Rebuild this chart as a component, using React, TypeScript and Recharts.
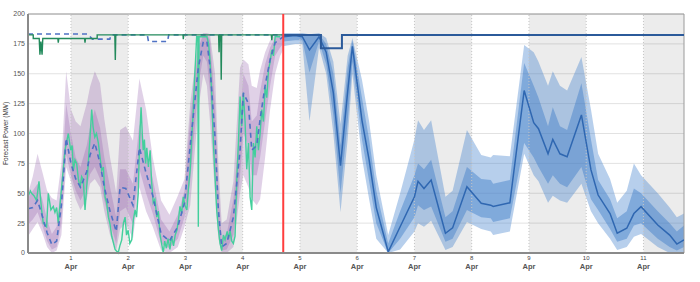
import {
  ComposedChart,
  Area,
  Line,
  XAxis,
  YAxis,
  CartesianGrid,
  ReferenceArea,
  ReferenceLine,
} from "recharts";

// hours since 1 Apr 00:00
const X_MIN = -18;
const X_MAX = 257;
const NOW_H = 89;

const dayLabels = ["1", "2", "3", "4", "5", "6", "7", "8", "9", "10", "11"];
const monthLabel = "Apr";
const shadedDays = [1, 3, 5, 7, 9, 11];
const yTicks = [0, 25, 50, 75, 100, 125, 150, 175, 200];

// historical forecast (purple bands + dashed median)
const histHours = [-18, -16, -14, -12, -10, -8, -6, -4, -2, 0, 2, 4, 6.6, 8, 10, 12.2, 14, 16.4, 19, 20.6, 23, 26, 28.7, 31.5, 34.3, 37.8, 41.3, 44.8, 47.6, 50, 53.4, 55.5, 57, 58.3, 60.4, 61.8, 63.2, 65.3, 68.1, 70.9, 72.3, 74.4, 75.8, 77.9, 79.3, 81.4, 83.5, 85.6, 87.7, 89];
const histOuterLow = [14, 20, 26, 17, 5, 0, 2, 15, 72, 60, 45, 36, 45, 58, 62, 55, 35, 15, 2, 20, 25, 12, 55, 35, 22, 2, 0, 5, 22, 40, 120, 150, 140, 110, 50, 12, 0, 0, 5, 50, 65, 55, 45, 40, 45, 80, 120, 150, 165, 170];
const histInnerLow = [24, 28, 34, 23, 10, 3, 5, 25, 82, 65, 52, 44, 55, 66, 72, 62, 44, 25, 8, 35, 38, 24, 70, 50, 33, 8, 4, 12, 30, 60, 140, 165, 160, 135, 70, 22, 2, 3, 15, 65, 100, 90, 65, 65, 80, 110, 140, 165, 172, 175];
const histMedian = [37, 38, 44, 31, 17, 7, 10, 40, 96, 75, 62, 55, 68, 82, 92, 75, 55, 35, 18, 55, 54, 40, 88, 67, 48, 16, 10, 22, 42, 90, 155, 177, 177, 156, 97, 36, 5, 8, 30, 86, 134, 125, 86, 90, 112, 140, 162, 176, 179, 181];
const histInnerHigh = [46, 52, 58, 45, 28, 16, 22, 58, 125, 100, 80, 72, 90, 105, 120, 105, 80, 55, 30, 70, 70, 58, 108, 85, 62, 28, 18, 32, 52, 112, 172, 183, 183, 178, 125, 55, 12, 16, 45, 110, 150, 140, 110, 115, 135, 158, 172, 180, 181, 183];
const histOuterHigh = [50, 64, 83, 68, 52, 46, 44, 75, 152, 120, 110, 106, 125, 139, 152, 142, 112, 80, 50, 103, 106, 94, 146, 120, 80, 44, 32, 48, 62, 125, 180, 184, 184, 183, 150, 75, 25, 28, 60, 155, 162, 158, 140, 138, 153, 168, 178, 183, 183, 184];

// measured power
const actualHours = [-18, -17, -16.5, -15.5, -14.4, -13.4, -12.3, -11.6, -10.2, -9.5, -8.4, -7.4, -6.7, -6, -5.3, -3.9, -2.5, -1.1, -0.1, 0.5, 1, 1.7, 2.4, 3.1, 3.8, 4.5, 5.2, 5.9, 6.6, 8, 8.7, 9.3, 10, 10.7, 11.5, 12.2, 12.9, 13.6, 14.3, 15, 15.7, 16.4, 17.1, 18.5, 19.8, 20.5, 21.3, 22, 22.7, 23.3, 24, 24.7, 25.5, 26.2, 26.9, 27.5, 28.2, 28.8, 29.4, 29.9, 30.3, 30.8, 31.3, 31.8, 32.5, 33.2, 33.8, 34.5, 35.2, 36, 36.6, 37.3, 38.7, 39.3, 40, 40.7, 41.5, 42.2, 43, 43.7, 44.4, 45.1, 45.7, 46.4, 47.1, 47.8, 48.6, 49.3, 50, 50.6, 51.3, 51.8, 52.2, 52.7, 53.2, 53.4, 53.7, 57, 57.7, 58.3, 59, 59.7, 60.4, 61.1, 61.8, 62.5, 63.2, 63.9, 64.6, 65.5, 66.1, 66.7, 67.4, 68.1, 68.8, 69.5, 70.2, 70.9, 71.6, 72.3, 73, 73.7, 74.4, 75.1, 75.8, 76.5, 77.2, 77.9, 78.6, 79.3, 80, 80.7, 81.4, 82.1, 82.8, 83.5, 84.2, 84.9, 85.6, 87.7];
const actualPower = [47, 52, 50, 48, 44, 60, 36, 25, 22, 50, 36, 39, 34, 38, 25, 55, 86, 100, 86, 90, 69, 78, 75, 62, 55, 64, 61, 36, 55, 97, 120, 105, 97, 100, 92, 80, 69, 72, 47, 42, 30, 24, 14, 3, 0, 6, 11, 25, 30, 15, 19, 8, 11, 28, 36, 30, 50, 95, 122, 100, 86, 95, 75, 88, 72, 86, 60, 42, 45, 30, 35, 16, 0, 10, 4, 12, 3, 14, 6, 15, 19, 28, 39, 33, 47, 40, 36, 55, 70, 95, 120, 145, 160, 181, 181, 22, 181, 181, 175, 161, 134, 92, 64, 36, 20, 8, 2, 15, 11, 18, 12, 19, 10, 8, 14, 60, 92, 131, 106, 134, 110, 70, 92, 47, 36, 92, 80, 106, 86, 100, 120, 110, 139, 130, 153, 160, 170, 165, 181, 181];

// available capacity (measured) and its forecast
const capHours = [-18, -15.8, -15.8, -13.3, -13, -12.6, -12.1, -11.8, -5.5, -5.3, -5.1, 5.7, 5.9, 6.1, 11, 11, 18.4, 18.6, 18.8, 47, 47.1, 47.3, 61.9, 62.1, 62.3, 62.8, 63, 63.2, 84, 84.2, 84.4, 88.5];
const capValues = [182.5, 182.5, 179.5, 179.5, 166, 177, 166, 179.5, 179.5, 176, 179.5, 179.5, 176, 179.5, 179.5, 182.5, 182.5, 161.5, 182.5, 182.5, 179, 182.5, 182.5, 168, 182.5, 182.5, 145, 182.5, 182.5, 178, 182.5, 182.5];
const capFcHistHours = [-18, 7, 9, 16.3, 16.8, 32, 32.5, 40.5, 41, 89];
const capFcHistValues = [183.3, 183.3, 179, 179, 182.5, 182.5, 177, 177, 182.5, 182.5];

// forecast (blue)
const fcHours = [89, 94, 97, 100, 104, 107, 110, 113, 116, 118, 122, 125, 128, 133, 138, 144, 145.5, 148, 151, 157, 160, 166, 172, 176, 177, 184, 190, 194, 196, 200, 202, 205, 208, 214, 218, 221, 226, 229, 233, 236, 239, 246, 251, 254, 257];
const fcMedian = [181, 182, 181, 170, 181, 168, 134, 73, 135, 173, 111, 78, 38, 1, 22, 47, 60, 54, 61, 16.5, 21, 55.5, 41.6, 40, 39, 42, 136, 109, 104, 83, 95, 83, 80.6, 115.5, 69.5, 48.5, 33, 16.5, 20.7, 33, 38.8, 23.4, 15, 7.5, 11];
const fcInnerLow = [177, 178, 178, 151, 177, 158, 115, 50, 110, 160, 95, 60, 25, 0, 12, 30, 40, 36, 39, 9.5, 12, 36, 30, 29, 26, 29, 92, 80, 72, 58, 65, 58, 55, 72, 45, 36, 20, 9.5, 12, 23, 25, 12, 5, 2, 5];
const fcInnerHigh = [183, 183, 183, 182, 183, 175, 150, 90, 155, 178, 130, 95, 52, 8, 35, 65, 75, 70, 78, 30, 35, 72, 62, 61, 58, 61, 159, 140, 130, 106, 122, 106, 103, 142, 95, 61, 45, 29, 35, 54, 50, 35, 25, 18, 23];
const fcOuterLow = [173, 175, 175, 110, 172, 150, 100, 34, 95, 150, 80, 45, 12, 0, 3, 18, 25, 22, 27, 2.5, 5, 26, 20, 18, 15, 18, 83, 65, 60, 42, 48, 44, 42, 58, 35, 25, 12, 2.5, 5, 13.6, 16, 5, 0, 0, 0];
const fcOuterHigh = [184, 184, 184, 183, 184, 180, 160, 108, 165, 180, 145, 110, 65, 15, 50, 95, 111, 103, 111, 47, 52, 103, 82, 80, 82, 81, 174, 168, 160, 140, 152, 140, 136, 164, 120, 83, 62, 42, 52, 75, 65, 50, 38, 30, 33];
const capFcHours = [89, 104.8, 104.8, 113.6, 113.6, 257];
const capFcValues = [182.5, 182.5, 171.3, 171.3, 182.5, 182.5];

const histRows = histHours.map((h, i) => ({
  h,
  outer: [histOuterLow[i], histOuterHigh[i]],
  inner: [histInnerLow[i], histInnerHigh[i]],
  med: histMedian[i],
}));
const fcRows = fcHours.map((h, i) => ({
  h,
  outer: [fcOuterLow[i], fcOuterHigh[i]],
  inner: [fcInnerLow[i], fcInnerHigh[i]],
  med: fcMedian[i],
}));
const actualRows = actualHours.map((h, i) => ({ h, v: actualPower[i] }));
const capRows = capHours.map((h, i) => ({ h, v: capValues[i] }));
const capFcHistRows = capFcHistHours.map((h, i) => ({ h, v: capFcHistValues[i] }));
const capFcRows = capFcHours.map((h, i) => ({ h, v: capFcValues[i] }));
const dayTicks = dayLabels.map((_, i) => i * 24);

const FONT = '"Liberation Sans", Arial, sans-serif';

function DayTick({ x, y, payload }: any) {
  const label = dayLabels[Math.round(payload.value / 24)];
  return (
    <g>
      <text x={x} y={y + 7} textAnchor="middle" fontSize={6} fill="#444" fontFamily={FONT}>
        {label}
      </text>
      <text x={x} y={y + 16} textAnchor="middle" fontSize={7.5} fontWeight="bold" fill="#555" fontFamily={FONT}>
        {monthLabel}
      </text>
    </g>
  );
}

export default function App() {
  return (
    <div style={{ position: "absolute", left: 0, top: 0, width: 700, height: 282, background: "#fff" }}>
      <ComposedChart width={700} height={282} margin={{ top: 14, right: 16, bottom: 0, left: 0 }}>
        <CartesianGrid vertical={false} stroke="#e2e2e2" />
        {shadedDays.map((d) => (
          <ReferenceArea
            key={d}
            x1={(d - 1) * 24}
            x2={Math.min(d * 24, X_MAX)}
            y1={0}
            y2={200}
            fill="#000"
            fillOpacity={0.075}
            stroke="none"
          />
        ))}
        {dayTicks.map((t) => (
          <ReferenceLine key={t} x={t} stroke="#c4c4c4" strokeDasharray="1 2" />
        ))}
        <XAxis
          type="number"
          dataKey="h"
          domain={[X_MIN, X_MAX]}
          ticks={dayTicks}
          allowDataOverflow
          height={29}
          tickLine={false}
          tickSize={0}
          tickMargin={0}
          axisLine={{ stroke: "#8a8a8a", strokeWidth: 2 }}
          tick={(p: any) => <DayTick {...p} />}
        />
        <YAxis
          domain={[0, 200]}
          ticks={yTicks}
          width={28}
          tickLine={false}
          tickSize={0}
          tickMargin={3}
          axisLine={{ stroke: "#8a8a8a", strokeWidth: 2 }}
          tick={{ fontSize: 7, fill: "#555", fontFamily: FONT }}
          label={{
            value: "Forecast Power (MW)",
            angle: -90,
            position: "insideLeft",
            offset: 6,
            style: { fontSize: 6.5, fill: "#333", fontFamily: FONT, textAnchor: "middle" },
          }}
        />

        <Area data={histRows} dataKey="outer" type="linear" stroke="none" fill="#8e5aa8" fillOpacity={0.28} isAnimationActive={false} />
        <Area data={histRows} dataKey="inner" type="linear" stroke="none" fill="#8e5aa8" fillOpacity={0.28} isAnimationActive={false} />
        <Line data={actualRows} dataKey="v" type="linear" stroke="#43cf9c" strokeWidth={1.4} dot={false} isAnimationActive={false} />
        <Line data={histRows} dataKey="med" type="linear" stroke="#4f72c4" strokeWidth={1.6} strokeDasharray="5 4" dot={false} isAnimationActive={false} />
        <Line data={capFcHistRows} dataKey="v" type="linear" stroke="#4f72c4" strokeWidth={1.6} strokeDasharray="5 4" dot={false} isAnimationActive={false} />
        <Line data={capRows} dataKey="v" type="linear" stroke="#238a5c" strokeWidth={1.4} dot={false} isAnimationActive={false} />

        <Area data={fcRows} dataKey="outer" type="linear" stroke="none" fill="#4a86d0" fillOpacity={0.4} isAnimationActive={false} />
        <Area data={fcRows} dataKey="inner" type="linear" stroke="none" fill="#3f7cc8" fillOpacity={0.45} isAnimationActive={false} />
        <Line data={fcRows} dataKey="med" type="linear" stroke="#2f67b1" strokeWidth={1.5} dot={false} isAnimationActive={false} />
        <Line data={capFcRows} dataKey="v" type="linear" stroke="#2b5a9a" strokeWidth={2} dot={false} isAnimationActive={false} />

        <ReferenceLine x={NOW_H} stroke="#ff3d3d" strokeWidth={2} />
        <ReferenceArea x1={X_MIN} x2={X_MAX} y1={0} y2={200} fill="none" stroke="#9a9a9a" strokeWidth={1} />
      </ComposedChart>
    </div>
  );
}
